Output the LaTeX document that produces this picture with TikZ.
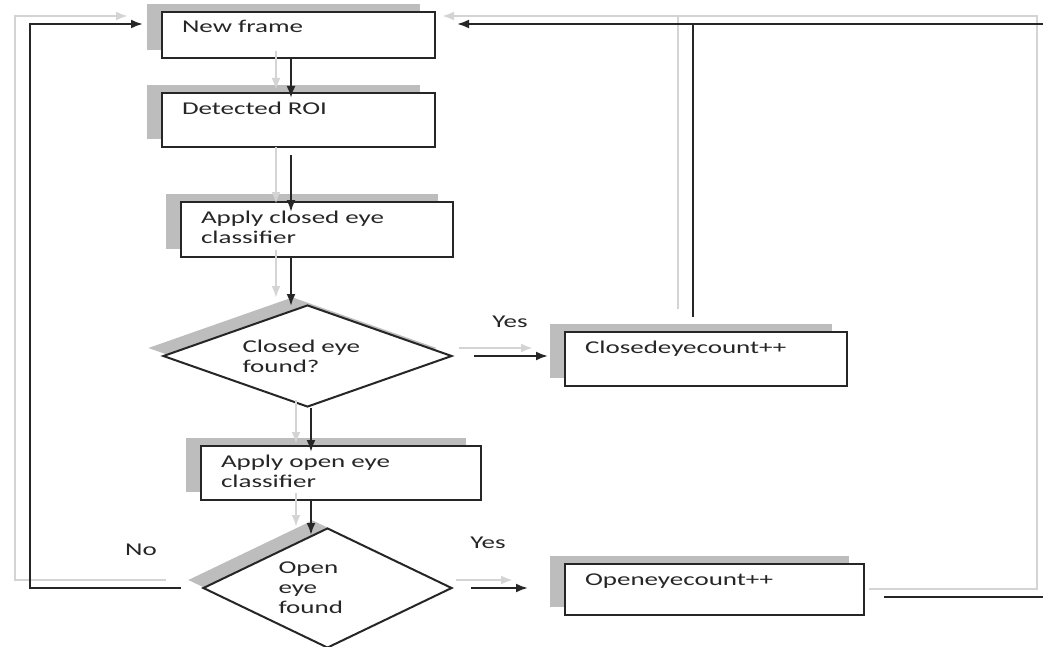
\documentclass[tikz,border=0pt]{standalone}
\usepackage{fontspec}
\setmainfont{Carlito}[FakeStretch=1.5]
\usepackage{tikz}
\usetikzlibrary{shapes}
\usetikzlibrary{arrows.meta}
\usetikzlibrary{shadows}
\definecolor{flowInk}{rgb}{0.15,0.15,0.15}
\definecolor{flowShade}{rgb}{0.74,0.74,0.74}
\definecolor{flowGhost}{rgb}{0.83,0.83,0.83}
\tikzstyle{backShade} = [drop shadow={shadow xshift=-7.5pt, shadow yshift=4pt, fill=flowShade, opacity=1}]
\tikzstyle{stepbox} = [rectangle, draw=flowInk, line width=1pt, fill=white, anchor=north west,
        align=left, inner xsep=10pt, inner ysep=4pt, text height=6.5pt, backShade]
\tikzstyle{decide} = [diamond, draw=flowInk, line width=1pt, fill=white, align=left,
        inner sep=0pt, backShade]
\tikzstyle{flowtag} = [inner sep=0pt]

\begin{document}
\begin{tikzpicture}[x=0.5pt, y=-0.5pt, font=\fontsize{9}{10}\selectfont, text=flowInk,
        >={Latex[length=6pt,width=4.5pt]}]
    \path[use as bounding box, fill=white] (0,0) rectangle (1043,647);

    % main column
    \node [stepbox, text width=116.5pt, text depth=8.5pt] (nf) at (161,11) {New frame};
    \node [stepbox, text width=116.5pt, text depth=12.5pt] (roi) at (161,92) {Detected ROI};
    \node [stepbox, text width=116pt, text depth=13pt] (ace) at (180,201) {Apply closed eye\\classifier};
    \node [decide, minimum width=144.5pt, minimum height=51pt, aspect=2.83, text width=65pt]
        (d1) at (307.5,356) {Closed eye\\found?};
    \node [stepbox, text width=120pt, text depth=12.5pt] (aoe) at (200,445) {Apply open eye\\classifier};
    \node [decide, minimum width=124.5pt, minimum height=60pt, aspect=2.07, text width=49pt]
        (d2) at (327.5,588) {Open\\eye\\found};

    % counters
    \node [stepbox, text width=121pt, text depth=12.5pt] (cnt1) at (564,331) {Closedeyecount++};
    \node [stepbox, text width=129.5pt, text depth=11pt] (cnt2) at (564,563) {Openeyecount++};

    \node [flowtag] (yes1) at (510,322) {Yes};
    \node [flowtag] (yes2) at (488,543) {Yes};
    \node [flowtag] (no) at (141,550) {No};

    \coordinate (colA) at (291,0);
    \coordinate (colB) at (311,0);
    \coordinate (loopL) at (30,24);
    \coordinate (topC) at (693,24);
    \coordinate (topR) at (1052,24);

    % faint copy first, then the dark lines
    \foreach \ink/\wd/\dx/\dy in {flowGhost/1.4/-7.5/4, flowInk/1.1/0/0} {
        \begin{scope}[transform canvas={shift={(\dx pt,\dy pt)}},
                every path/.append style={draw=\ink, line width=\wd pt}]
            \draw [->, shorten >=-3pt] (nf.south -| colA) -- (roi.north -| colA);
            \draw [->, shorten <=3.5pt, shorten >=-5.5pt] (roi.south -| colA) -- (ace.north -| colA);
            \draw [->, shorten >=-1pt] (ace.south -| colA) -- (d1.north -| colA);
            \draw [->, shorten >=-3.5pt] (d1.south -| colB) -- (aoe.north -| colB);
            \draw [->, shorten >=-4pt] (aoe.south -| colB) -- (d2.north -| colB);
            \draw [->, shorten <=10.5pt, shorten >=8pt] (d1.east) -- (d1.east -| cnt1.west);
            \draw [->, shorten <=9pt, shorten >=18pt] (d2.east) -- (d2.east -| cnt2.west);
            \draw [->, shorten <=10.5pt, shorten >=9pt] (d2.west) -| (loopL) -- (loopL -| nf.west);
            \draw [shorten <=7pt] (cnt1.north -| topC) -- (topC);
            \draw [->, shorten <=9.5pt, shorten >=10.5pt] ([yshift=-3.75pt]cnt2.east) -| (topR) -- (topR -| nf.east);
        \end{scope}
    }
\end{tikzpicture}
\end{document}
